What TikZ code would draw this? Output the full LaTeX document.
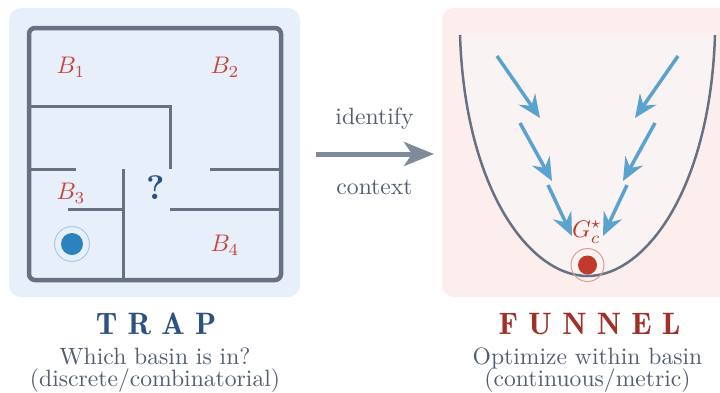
\documentclass[tikz,border=0pt]{standalone}
\usepackage{fix-cm}
\usetikzlibrary{arrows.meta}
\definecolor{leftbg}{HTML}{E7EFFB}
\definecolor{rightbg}{HTML}{FDEEEE}
\definecolor{funnelfill}{HTML}{FAF3F3}
\definecolor{wallc}{HTML}{667181}
\definecolor{bluedot}{HTML}{2A82BE}
\definecolor{reddot}{HTML}{C0392B}
\definecolor{basinred}{HTML}{C8453B}
\definecolor{trapblue}{HTML}{2C5282}
\definecolor{funnelred}{HTML}{A03028}
\definecolor{txtgray}{HTML}{525D70}
\definecolor{arrowblue}{HTML}{5BA3CF}
\definecolor{bigarrow}{HTML}{7F8B9B}
\tikzset{
  x=1pt,y=-1pt,
  outerwall/.style={draw=wallc,line width=4.5pt,rounded corners=6pt},
  innerwall/.style={draw=wallc,line width=3pt},
  basin/.style={text=basinred,transform shape,scale=2.4,inner sep=0pt},
  flow/.style={draw=arrowblue,line width=3.5pt,-{Stealth[length=23pt,width=20pt,inset=8pt]}},
  caption/.style={text=txtgray,transform shape,scale=2.36,inner sep=0pt,anchor=base},
  title/.style={transform shape,scale=3.1,font=\fontseries{b}\selectfont,inner sep=0pt,anchor=base},
  sidelabel/.style={text=txtgray,transform shape,scale=2.36,inner sep=0pt,anchor=base},
}
\newcommand{\spc}{\hspace{0.33em}}
\begin{document}
\begin{tikzpicture}
\useasboundingbox (0,0) rectangle (720,392);
% panels
\fill[leftbg,rounded corners=12pt] (9,8) rectangle (300,297);
\begin{scope}
\clip (0,0) rectangle (720,392);
\fill[rightbg,rounded corners=12pt] (442,8) rectangle (740,297);
\end{scope}
% maze
\draw[outerwall] (29,28) rectangle (281,280);
\draw[innerwall,line join=miter] (29,106) -- (170,106) -- (170,169);
\draw[innerwall] (29,169) -- (76,169);
\draw[innerwall] (123,169) -- (123,280);
\draw[innerwall] (68,209) -- (123,209);
\draw[innerwall] (170,209) -- (281,209);
\draw[innerwall] (210,169) -- (281,169);
\node[basin] (b1) at (71,67) {$B_1$};
\node[basin] (b2) at (225,67) {$B_2$};
\node[basin] (b3) at (71,193) {$B_3$};
\node[basin] (b4) at (225,245) {$B_4$};
\node[inner sep=0pt,text=trapblue,transform shape,scale=3.4,font=\bfseries] (q) at (156,188) {?};
\node[circle,fill=bluedot,minimum size=22pt,inner sep=0pt] (agent) at (72,244) {};
\draw[bluedot!40,line width=1pt] (agent) circle (17.5pt);
% funnel
\fill[funnelfill] (460,35) .. controls (465,190) and (530,276) .. (587.5,276)
   .. controls (645,276) and (710,190) .. (715,35) -- cycle;
\draw[wallc,line width=2.5pt] (460,35) .. controls (465,190) and (530,276) .. (587.5,276)
   .. controls (645,276) and (710,190) .. (715,35);
\coordinate (l1a) at (497,56); \coordinate (l1b) at (540,118);
\coordinate (l2a) at (520,123); \coordinate (l2b) at (552,181);
\coordinate (l3a) at (548,185); \coordinate (l3b) at (572,236);
\coordinate (r1a) at (678,56); \coordinate (r1b) at (635,118);
\coordinate (r2a) at (655,123); \coordinate (r2b) at (623,181);
\coordinate (r3a) at (627,185); \coordinate (r3b) at (603,236);
\draw[flow] (l1a) -- (l1b);
\draw[flow] (l2a) -- (l2b);
\draw[flow] (l3a) -- (l3b);
\draw[flow] (r1a) -- (r1b);
\draw[flow] (r2a) -- (r2b);
\draw[flow] (r3a) -- (r3b);
\node[circle,fill=reddot,minimum size=19pt,inner sep=0pt] (goal) at (587.5,265) {};
\draw[reddot!50,line width=1pt] (goal) circle (16.5pt);
\node[basin,text=reddot] (g) at (587,232) {$G_c^\star$};
% middle
\coordinate (ma) at (316,154); \coordinate (mb) at (434,154);
\draw[bigarrow,line width=5pt,-{Stealth[length=30pt,width=24pt,inset=8pt]}] (ma) -- (mb);
\node[sidelabel] (id) at (374.5,124) {identify};
\node[sidelabel] (ct) at (374.5,194) {context};
% captions
\node[title,text=trapblue] (t1) at (156,334) {T\spc R\spc A\spc P};
\node[title,text=funnelred] (t2) at (589.5,334) {F\spc U\spc N\spc N\spc E\spc L};
\node[caption] (c1a) at (155,364) {Which basin is in?};
\node[caption] (c1b) at (155,386) {(discrete/combinatorial)};
\node[caption] (c2a) at (587.5,364) {Optimize within basin};
\node[caption] (c2b) at (587.5,386) {(continuous/metric)};
\end{tikzpicture}
\end{document}
